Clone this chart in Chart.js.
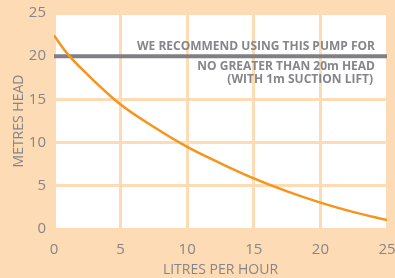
<!DOCTYPE html>
<html>
<head>
<meta charset="utf-8">
<script src="https://cdn.jsdelivr.net/npm/chart.js@4/dist/chart.umd.min.js"></script>
<style>
  html, body { margin: 0; padding: 0; background: #FDDBB4; }
  canvas { display: block; }
</style>
</head>
<body>
<canvas id="c" width="395" height="278"></canvas>
<script>
// Flow (litres per hour) vs head (metres)
const flowLph = [0, 1, 2.5, 5, 7.5, 10, 12.5, 15, 17.5, 20, 22.5, 25];
const headM   = [22.4, 20.3, 17.9, 14.4, 11.8, 9.5, 7.6, 5.85, 4.35, 3.05, 1.95, 1.04];
const recommendFlow = [0, 25];
const recommendHead = [20, 20];
const xTicks = [0, 5, 10, 15, 20, 25];
const yTicks = [0, 5, 10, 15, 20, 25];
const noteLines = ['WE RECOMMEND USING THIS PUMP FOR', 'NO GREATER THAN 20m HEAD', '(WITH 1m SUCTION LIFT)'];
const xTitle = 'LITRES PER HOUR';
const yTitle = 'METRES HEAD';

const PEACH = '#FDDBB4';
const GREY = '#808084';
const TEXT = '#86868A';

const whiteArea = {
  id: 'whiteArea',
  beforeDraw(chart) {
    const {ctx, chartArea: a} = chart;
    ctx.save();
    ctx.fillStyle = PEACH;
    ctx.fillRect(0, 0, chart.width, chart.height);
    ctx.fillStyle = '#ffffff';
    ctx.fillRect(a.left, a.top, a.right - a.left, a.bottom - a.top);
    ctx.restore();
  }
};

const note = {
  id: 'note',
  afterDraw(chart) {
    const {ctx} = chart;
    const xs = chart.scales.x, ys = chart.scales.y;
    const xr = xs.getPixelForValue(25) - 12;
    const base = ys.getPixelForValue(20);
    ctx.save();
    ctx.fillStyle = TEXT;
    ctx.font = 'bold 12px "Open Sans"';
    ctx.textAlign = 'right';
    ctx.textBaseline = 'alphabetic';
    ctx.fillText(noteLines[0], xr, base - 6.5);
    ctx.fillText(noteLines[1], xr, base + 14);
    ctx.fillText(noteLines[2], xr - 2, base + 27);
    ctx.restore();
  }
};

new Chart(document.getElementById('c'), {
  type: 'line',
  data: {
    datasets: [
      {
        data: flowLph.map((x, i) => ({x, y: headM[i]})),
        borderColor: '#F7941D',
        borderWidth: 2.5,
        pointRadius: 0,
        cubicInterpolationMode: 'monotone',
        fill: false
      },
      {
        data: recommendFlow.map((x, i) => ({x, y: recommendHead[i]})),
        borderColor: GREY,
        borderWidth: 4,
        pointRadius: 0,
        fill: false
      }
    ]
  },
  options: {
    responsive: false,
    animation: false,
    devicePixelRatio: 1,
    layout: { padding: { left: 0, right: 8, top: 13, bottom: 0 } },
    plugins: { legend: { display: false }, tooltip: { enabled: false } },
    scales: {
      x: {
        type: 'linear', min: 0, max: 25,
        afterBuildTicks: s => { s.ticks = xTicks.map(v => ({value: v})); },
        afterFit: s => { s.height = 49; s.paddingLeft = 0; s.paddingRight = 0; },
        grid: { color: PEACH, lineWidth: 3, drawTicks: false },
        border: { display: false },
        ticks: { color: TEXT, font: { family: 'Open Sans', size: 15 }, padding: 12 },
        title: { display: true, text: xTitle, color: TEXT, font: { family: 'Open Sans', size: 14 }, padding: { top: 0, bottom: 0 } }
      },
      y: {
        type: 'linear', min: 0, max: 25,
        afterBuildTicks: s => { s.ticks = yTicks.map(v => ({value: v})); },
        afterFit: s => { s.width = 54; s.paddingTop = 0; s.paddingBottom = 0; },
        grid: { color: PEACH, lineWidth: 3, drawTicks: false },
        border: { display: false },
        ticks: { color: TEXT, font: { family: 'Open Sans', size: 15 }, padding: 8 },
        title: { display: true, text: yTitle, color: TEXT, font: { family: 'Open Sans', size: 14 }, padding: { top: 11, bottom: 0 } }
      }
    }
  },
  plugins: [whiteArea, note]
});
</script>
</body>
</html>
